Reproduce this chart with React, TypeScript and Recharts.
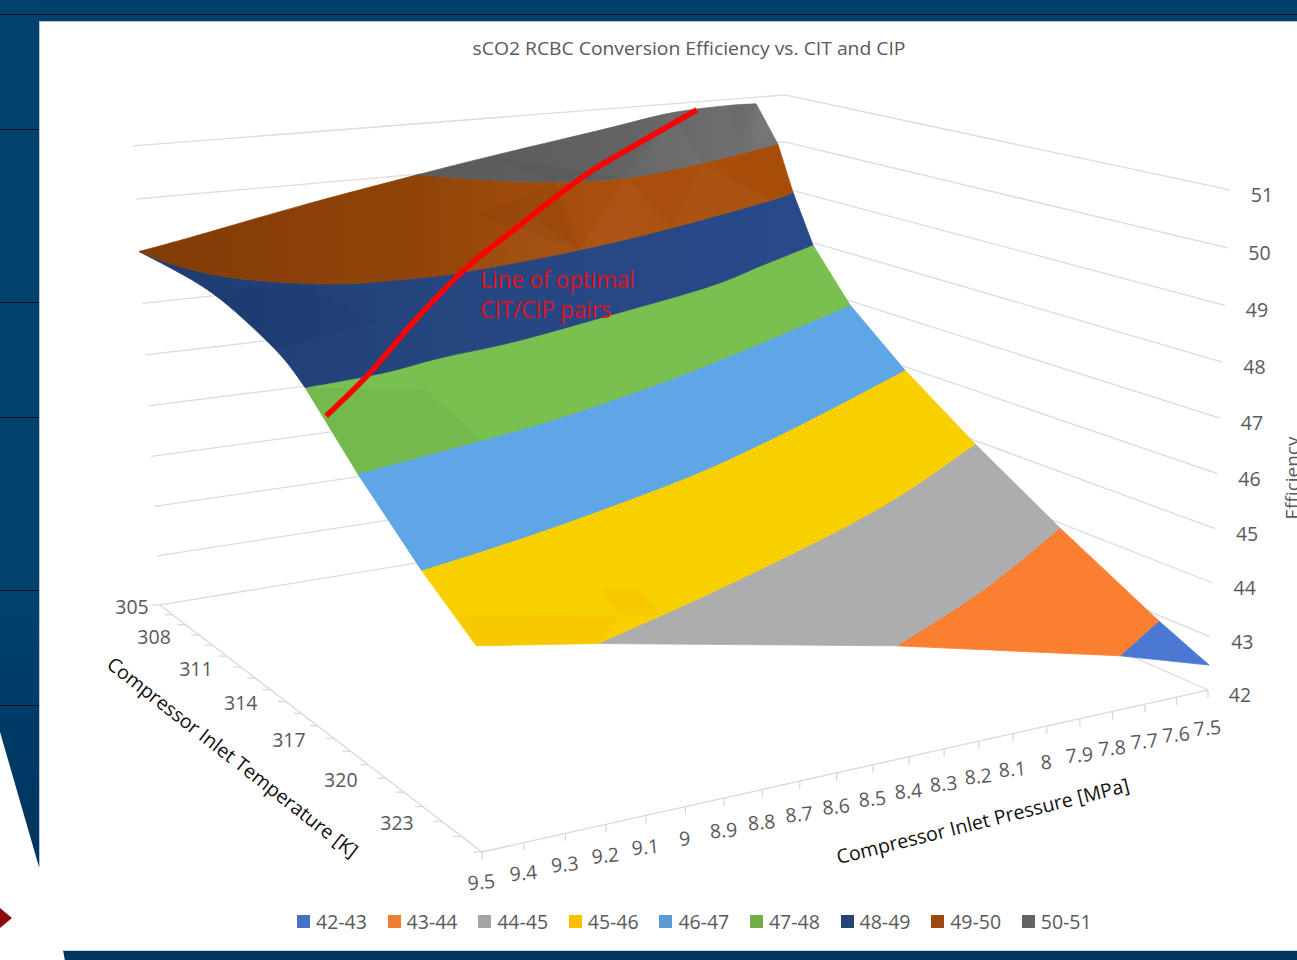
import React from "react";
import { ScatterChart, Scatter, XAxis, YAxis, Legend } from "recharts";

// axis ticks
const citTicks = [305, 308, 311, 314, 317, 320, 323];
const citMinorTicks = [306, 307, 309, 310, 312, 313, 315, 316, 318, 319, 321, 322, 324, 325];
const cipTicks = [9.5, 9.4, 9.3, 9.2, 9.1, 9, 8.9, 8.8, 8.7, 8.6, 8.5, 8.4, 8.3, 8.2, 8.1, 8, 7.9, 7.8, 7.7, 7.6, 7.5];
const effTicks = [42, 43, 44, 45, 46, 47, 48, 49, 50, 51];

// iso-efficiency contours, [CIP MPa, CIT K]
const contour43 = [[7.783, 325], [7.529, 323.36]];
const contour44 = [[8.439, 325], [8.019, 322.56], [7.528, 319.19]];
const contour45 = [[9.213, 325], [8.864, 323.35], [8.47, 321.32], [8.166, 319.62], [7.9, 317.92], [7.523, 315.26]];
const contour46 = [[9.5, 322.35], [9.25, 321.44], [8.97, 320.27], [8.575, 318.4], [8.116, 315.68], [7.524, 311.83]];
const contour47 = [[9.5, 319.05], [9.126, 317.76], [8.896, 316.88], [8.596, 315.43], [8.311, 313.88], [7.919, 311.52], [7.532, 309.1]];
const contour48 = [[9.5, 316.15], [9.285, 315.72], [9.101, 314.95], [8.869, 314.25], [8.547, 312.82], [8.102, 310.73], [7.808, 308.8], [7.52, 306.9]];
const contour49 = [[9.5, 305], [9.485, 307.28], [9.415, 309.7], [9.247, 311.59], [9.081, 311.99], [8.888, 311.92], [8.496, 310.73], [8.124, 309.11], [7.643, 306.59], [7.515, 305.7]];
const contour50 = [[8.7, 305.1], [8.57, 306.9], [8.43, 308.1], [8.23, 308.5], [7.92, 307.3], [7.54, 305.25]];

// surface edge points that sit between contours, [CIP, CIT, efficiency]
const nearRightCorner = [7.5, 325, 42.47];
const nearLeftCorner = [9.5, 325, 45.32];
const leftEdgeUpper = [[9.5, 310.3, 48.87], [9.5, 314.4, 48.4]];
const backEdgeLow = [[9.03, 305, 49.6], [9.36, 305, 49.17]];
const backEdgeHigh = [[7.6, 305, 50.86], [7.7, 305, 50.87], [7.89, 305, 50.81], [8.116, 305, 50.58], [8.48, 305, 50.22]];

// line of optimal CIT/CIP pairs, [CIP, CIT, efficiency]
const optimalLine = [[9.48, 316.86, 47.6], [9.33, 315.7, 47.95], [9.095, 313.73, 48.6], [8.85, 311.46, 49.05], [8.676, 310.3, 49.4], [8.51, 309.1, 49.7], [8.288, 307.48, 50.05], [8.07, 306.16, 50.35], [7.786, 304.73, 50.8]];

// surface facets that catch more or less light, [CIP, CIT, efficiency] corners
const lightFacets = [
  [[7.89, 305, 50.81], [8.23, 308.5, 50], [7.92, 307.3, 50]],
  [[7.6, 305, 50.86], [7.7, 306.4, 50.2], [7.54, 305.25, 50]],
  [[8.23, 308.5, 50], [8.124, 309.11, 49], [8.496, 310.73, 49]],
  [[7.92, 307.3, 50], [7.643, 306.59, 49], [8.124, 309.11, 49]],
  [[8.57, 309.2, 49.6], [8.496, 310.73, 49], [8.888, 311.92, 49]],
];
const darkFacets = [
  [[8.48, 305, 50.22], [8.43, 308.1, 50], [8.23, 308.5, 50]],
  [[7.7, 305, 50.87], [7.75, 306.5, 50.3], [7.6, 305, 50.86]],
  [[8.43, 308.1, 50], [8.496, 310.73, 49], [8.7, 308.9, 49.6]],
  [[9.5, 319.05, 47], [9.126, 317.76, 47], [9.2, 316.2, 47.7], [9.5, 316.15, 48]],
  [[9.5, 310.3, 48.87], [9.5, 314.4, 48.4], [9.2, 313.6, 48.55], [9.28, 310.8, 48.95]],
];
const amberFacets = [
  [[9.5, 325, 45.32], [9.213, 325, 45], [9.118, 324.26, 45.2], [9.5, 324.14, 45.6]],
  [[9.13, 323.64, 45.5], [9.057, 324.07, 45.5], [9.044, 324.71, 45.2], [9.118, 324.26, 45.2]],
];

const bandNames = ["42-43", "43-44", "44-45", "45-46", "46-47", "47-48", "48-49", "49-50", "50-51"];
const legendColors = ["#4472c4", "#ed7d31", "#a5a5a5", "#ffc000", "#5b9bd5", "#70ad47", "#264478", "#9e480e", "#636363"];
const surfaceColors = ["#4a78d2", "#fb7f31", "#adadad", "#f8d000", "#5fa6e6", "#79c050", "url(#blueShade)", "url(#brownShade)", "url(#greyShade)"];

// camera fitted to the corners of the chart's 3D box
const project = ([cip, cit, eff]: number[]) => {
  const u = (9.5 - cip) / 2;
  const v = (325 - cit) / 20;
  const w = (eff - 42) / 9;
  const d = 1 + 0.1675 * u + 0.2771 * v - 0.0548 * w;
  return {
    x: (482 + 928.3 * u - 277.7 * v - 41.7 * w) / d,
    y: (852 - 46.4 * u - 79.4 * v - 594.2 * w) / d,
  };
};

const lift = (contour: number[][], eff: number) => contour.map(([cip, cit]) => [cip, cit, eff]);
const rev = (a: number[][]) => [...a].reverse();
const c43 = lift(contour43, 43);
const c44 = lift(contour44, 44);
const c45 = lift(contour45, 45);
const c46 = lift(contour46, 46);
const c47 = lift(contour47, 47);
const c48 = lift(contour48, 48);
const c49 = lift(contour49, 49);
const c50 = lift(contour50, 50);

// each band is a list of smooth runs; the joins between runs stay sharp
const bandOutlines = [
  [c43, [nearRightCorner]],
  [c44, rev(c43)],
  [c45, rev(c44)],
  [[nearLeftCorner, c45[0]], c45, rev(c46)],
  [c46, rev(c47)],
  [c47, rev(c48)],
  [c48, rev(c49), [c49[0], ...leftEdgeUpper, c48[0]]],
  [c49, rev(c50), [c50[0], ...backEdgeLow, c49[0]]],
  [c50, [c50[c50.length - 1], backEdgeHigh[0]], [...backEdgeHigh, c50[0]]],
];

const smoothBand = (runs: number[][][], fill: string) => (props: any) => {
  const pts = props.points;
  let d = "";
  let at = 0;
  runs.forEach((run) => {
    const p = pts.slice(at, at + run.length);
    at += run.length;
    d += `${d ? "L" : "M"}${p[0].x} ${p[0].y}`;
    for (let i = 0; i < p.length - 1; i++) {
      const a = p[Math.max(i - 1, 0)];
      const b = p[i];
      const c = p[i + 1];
      const e = p[Math.min(i + 2, p.length - 1)];
      d += `C${b.x + (c.x - a.x) / 6} ${b.y + (c.y - a.y) / 6} ${c.x - (e.x - b.x) / 6} ${c.y - (e.y - b.y) / 6} ${c.x} ${c.y}`;
    }
  });
  return <path d={d + "Z"} fill={fill} stroke={fill} strokeWidth={0.8} />;
};

const gridLines = effTicks.map((z) => [[9.5, 305, z], [7.5, 305, z], [7.5, 325, z]].map(project));
const floorLine = [[7.5, 325, 42], [9.5, 325, 42], [9.5, 305, 42]].map(project);

const citTickPoints = [...citTicks, ...citMinorTicks].map((t) => project([9.5, t, 42]));
const cipTickPoints = cipTicks.map((t) => project([t, 325, 42]));
const citLabels = citTicks.map((t) => ({ ...project([9.5, t, 42]), label: String(t) }));
const cipLabels = cipTicks.map((t) => ({ ...project([t, 325, 42]), label: String(t), drop: 30 + (9.5 - t) * 4 }));
const effLabels = effTicks.map((t) => ({ ...project([7.5, 325, t]), label: String(t) }));
const noteAnchor = [{ ...project(optimalLine[3]) }];

const FONT = "'Open Sans', sans-serif";
const GREY = "#595959";
const NoDot = () => <g />;

const Tick = (dx: number, dy: number) => (p: any) => (
  <line x1={p.cx} y1={p.cy} x2={p.cx + dx} y2={p.cy + dy} stroke="#d9d9d9" strokeWidth={1.3} />
);

const TickText = (p: any, dx: number, dy: number, rotate = 0) => (
  <text
    x={p.cx + dx}
    y={p.cy + dy}
    textAnchor="middle"
    fontFamily={FONT}
    fontSize={19.5}
    fill={GREY}
    transform={rotate ? `rotate(${rotate} ${p.cx + dx} ${p.cy + dy})` : undefined}
  >
    {p.payload.label}
  </text>
);

const OptimalNote = (p: any) => (
  <g fontFamily={FONT} fontSize={23} fill="#e2101e">
    <text x={p.cx + 11} y={p.cy + 23} textLength={154} lengthAdjust="spacingAndGlyphs">Line of optimal</text>
    <text x={p.cx + 11} y={p.cy + 53} textLength={131} lengthAdjust="spacingAndGlyphs">CIT/CIP pairs</text>
  </g>
);

const LegendRow = ({ payload }: any) => (
  <div style={{ display: "flex", fontFamily: FONT, fontSize: 19.5, color: GREY }}>
    {(payload || [])
      .filter((e: any) => bandNames.includes(e.value))
      .map((e: any) => (
        <div key={e.value} style={{ width: 90.6, display: "flex", alignItems: "center" }}>
          <span style={{ width: 13, height: 13, marginRight: 6, background: e.color }} />
          {e.value}
        </div>
      ))}
  </div>
);

const block = (style: React.CSSProperties) => <div style={{ position: "absolute", ...style }} />;

export default function App() {
  const DARK = "#00406c";
  return (
    <div style={{ position: "absolute", left: 0, top: 0, width: 1297, height: 960, background: "#fff", overflow: "hidden" }}>
      {block({ left: 0, top: 0, width: 1297, height: 21, background: DARK })}
      {block({ left: 0, top: 14, width: 1297, height: 1.2, background: "#0a1420" })}
      {block({
        left: 0, top: 0, width: 39, height: 870,
        background: "linear-gradient(#00416d, #00416d 70%, #00345e)",
        clipPath: "polygon(0 0, 39px 0, 39px 867px, 0 732px)",
      })}
      {block({ left: 0, top: 14, width: 39, height: 1.2, background: "#0a1420" })}
      {[129, 302, 417, 590, 705].map((y) =>
        <React.Fragment key={y}>{block({ left: 0, top: y, width: 39, height: 1.2, background: "#0a1420" })}</React.Fragment>
      )}
      {block({ left: 39, top: 21, width: 1.2, height: 846, background: "#b9c6d2" })}
      {block({ left: 39, top: 21, width: 1258, height: 1, background: "#b9c6d2" })}
      {block({ left: 63, top: 950, width: 1234, height: 10, background: "#00365f", clipPath: "polygon(0 0, 100% 0, 100% 100%, 2px 100%)", borderTop: "1px solid #cfd3d6" })}
      {block({ left: 0, top: 908, width: 12, height: 20, background: "#8c0a0a", clipPath: "polygon(0 0, 100% 50%, 0 100%)" })}

      <div style={{ position: "absolute", left: 0, top: 0 }}>
        <ScatterChart width={1297} height={960} margin={{ top: 0, right: 0, bottom: 0, left: 0 }}>
          <defs>
            <linearGradient id="blueShade" gradientUnits="userSpaceOnUse" x1="141" y1="0" x2="813" y2="0">
              <stop offset="0" stopColor="#1f3b70" />
              <stop offset="0.45" stopColor="#25467f" />
              <stop offset="1" stopColor="#294a8a" />
            </linearGradient>
            <linearGradient id="brownShade" gradientUnits="userSpaceOnUse" x1="141" y1="0" x2="793" y2="0">
              <stop offset="0" stopColor="#823c07" />
              <stop offset="0.4" stopColor="#8f4308" />
              <stop offset="0.7" stopColor="#a94f0e" />
              <stop offset="1" stopColor="#a84d08" />
            </linearGradient>
            <linearGradient id="greyShade" gradientUnits="userSpaceOnUse" x1="418" y1="0" x2="777" y2="0">
              <stop offset="0" stopColor="#5a5a5a" />
              <stop offset="0.55" stopColor="#626262" />
              <stop offset="1" stopColor="#737373" />
            </linearGradient>
          </defs>
          <XAxis type="number" dataKey="x" domain={[0, 1297]} hide />
          <YAxis type="number" dataKey="y" domain={[0, 960]} reversed hide />

          {gridLines.map((pts, i) => (
            <Scatter key={i} data={pts} shape={NoDot} legendType="none" isAnimationActive={false}
              line={{ stroke: "#dcdcdc", strokeWidth: 1.3 }} />
          ))}
          <Scatter data={floorLine} shape={NoDot} legendType="none" isAnimationActive={false}
            line={{ stroke: "#d9d9d9", strokeWidth: 1.3 }} />
          <Scatter data={citTickPoints} shape={Tick(-8, 0)} legendType="none" isAnimationActive={false} />
          <Scatter data={cipTickPoints} shape={Tick(0, 8)} legendType="none" isAnimationActive={false} />

          {bandOutlines.map((runs, i) => (
            <Scatter key={bandNames[i]} name={bandNames[i]} data={runs.flat().map(project)} fill={legendColors[i]}
              shape={NoDot} isAnimationActive={false} line={smoothBand(runs, surfaceColors[i])} />
          ))}

          {lightFacets.map((f, i) => (
            <Scatter key={`l${i}`} data={[...f, f[0]].map(project)} shape={NoDot} legendType="none" isAnimationActive={false}
              line={{ fill: "#ffffff", fillOpacity: 0.03, stroke: "none" }} />
          ))}
          {darkFacets.map((f, i) => (
            <Scatter key={`d${i}`} data={[...f, f[0]].map(project)} shape={NoDot} legendType="none" isAnimationActive={false}
              line={{ fill: "#000000", fillOpacity: 0.035, stroke: "none" }} />
          ))}
          {amberFacets.map((f, i) => (
            <Scatter key={`a${i}`} data={[...f, f[0]].map(project)} shape={NoDot} legendType="none" isAnimationActive={false}
              line={{ fill: "#f7b900", fillOpacity: 0.35, stroke: "none" }} />
          ))}

          <Scatter data={noteAnchor} shape={OptimalNote} legendType="none" isAnimationActive={false} />
          <Scatter data={optimalLine.map(project)} shape={NoDot} legendType="none" isAnimationActive={false}
            lineJointType="monotoneX" line={{ stroke: "#ff0000", strokeWidth: 5.5 }} />

          <Scatter data={citLabels} legendType="none" isAnimationActive={false}
            shape={(p: any) => TickText(p, p.payload.label === "305" ? -28 : -45, 9)} />
          <Scatter data={cipLabels} legendType="none" isAnimationActive={false}
            shape={(p: any) => TickText(p, 0, p.payload.drop + 7, -5)} />
          <Scatter data={effLabels} legendType="none" isAnimationActive={false}
            shape={(p: any) => TickText(p, 32, 12)} />

          <text x={689} y={55} textAnchor="middle" fontFamily={FONT} fontSize={18} fill={GREY} textLength={433} lengthAdjust="spacingAndGlyphs">
            sCO2 RCBC Conversion Efficiency vs. CIT and CIP
          </text>
          <text x={232} y={764} textAnchor="middle" fontFamily={FONT} fontSize={19.5} fill="#111" textLength={312} lengthAdjust="spacingAndGlyphs" transform="rotate(38 232 758)">
            Compressor Inlet Temperature [K]
          </text>
          <text x={983} y={828} textAnchor="middle" fontFamily={FONT} fontSize={19.5} fill="#111" textLength={301} lengthAdjust="spacingAndGlyphs" transform="rotate(-14 983 822)">
            Compressor Inlet Pressure [MPa]
          </text>
          <text x={1299} y={478} textAnchor="middle" fontFamily={FONT} fontSize={19} fill={GREY} transform="rotate(-90 1299 478)">
            Efficiency
          </text>

          <Legend verticalAlign="middle" layout="horizontal" content={LegendRow}
            wrapperStyle={{ left: 297, top: 908, width: 830, height: 26 }} />
        </ScatterChart>
      </div>
    </div>
  );
}
